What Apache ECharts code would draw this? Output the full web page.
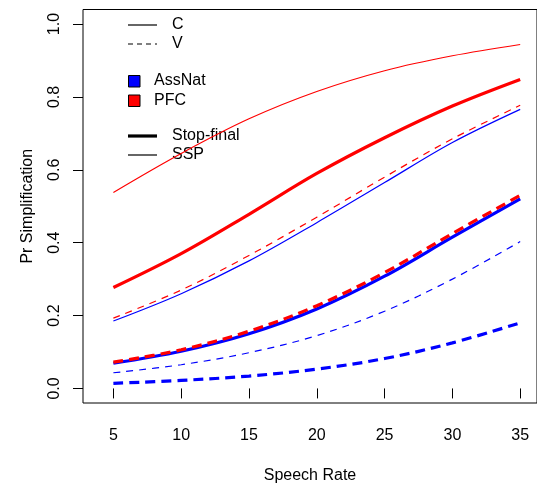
<!DOCTYPE html>
<html>
<head>
<meta charset="utf-8">
<script src="https://cdn.jsdelivr.net/npm/echarts@6/dist/echarts.min.js"></script>
<style>
html,body{margin:0;padding:0;background:#fff;}
#chart{width:537px;height:489px;}
</style>
</head>
<body>
<div id="chart"></div>
<script>
// Speech rate values at which curves were read
const speechRate = [5, 10, 15, 20, 25, 30, 35];
// PFC (red)
const pfcC_SSP        = [0.538, 0.645, 0.740, 0.815, 0.872, 0.913, 0.944];
const pfcC_StopFinal  = [0.277, 0.370, 0.478, 0.590, 0.688, 0.775, 0.848];
const pfcV_SSP        = [0.193, 0.270, 0.365, 0.470, 0.580, 0.685, 0.777];
const pfcV_StopFinal  = [0.072, 0.106, 0.157, 0.227, 0.318, 0.425, 0.530];
// AssNat (blue)
const assC_SSP        = [0.185, 0.260, 0.350, 0.455, 0.565, 0.675, 0.766];
const assC_StopFinal  = [0.069, 0.102, 0.150, 0.218, 0.308, 0.415, 0.520];
const assV_SSP        = [0.043, 0.065, 0.098, 0.145, 0.212, 0.300, 0.403];
const assV_StopFinal  = [0.014, 0.022, 0.034, 0.053, 0.082, 0.125, 0.180];

const xTicks = [5, 10, 15, 20, 25, 30, 35];
const yTicks = [0, 0.2, 0.4, 0.6, 0.8, 1.0];

const FONT = '"Liberation Sans", Arial, sans-serif';
const BLUE = '#0000ff', RED = '#ff0000';

function pts(vals) { return speechRate.map((x, i) => [x, vals[i]]); }
function mk(name, vals, color, thick, dashed) {
  return {
    name: name, type: 'line', data: pts(vals), smooth: 0.35,
    symbol: 'none', silent: true, animation: false,
    lineStyle: {
      color: color, width: thick ? 3.2 : 1.2,
      type: dashed ? (thick ? [10, 6] : [7, 6]) : 'solid'
    }
  };
}

const chart = echarts.init(document.getElementById('chart'), null, {renderer: 'canvas'});

const legendItems = [];
function legLine(y, w, dashed) {
  legendItems.push({type: 'line', shape: {x1: 128, y1: y, x2: 157, y2: y},
    style: {stroke: '#000', lineWidth: w, lineDash: dashed ? [5, 4] : null}});
}
function legText(x, y, t) {
  legendItems.push({type: 'text', x: x, y: y,
    style: {text: t, font: '16px ' + FONT, fill: '#000', textVerticalAlign: 'middle', verticalAlign: 'middle'}});
}
function legRect(y, c) {
  legendItems.push({type: 'rect', shape: {x: 128.5, y: y, width: 11.5, height: 11.5},
    style: {fill: c, stroke: '#000', lineWidth: 1}});
}
legLine(25, 1.2, false); legText(172, 25, 'C');
legLine(44, 1.2, true);  legText(172, 44, 'V');
legRect(75.5, BLUE); legText(154, 81, 'AssNat');
legRect(95, RED);    legText(154, 101, 'PFC');
legLine(136, 3.2, false); legText(172, 136, 'Stop-final');
legLine(155, 1.2, false); legText(172, 155, 'SSP');

chart.setOption({
  animation: false,
  backgroundColor: '#fff',
  textStyle: {fontFamily: FONT},
  grid: {left: 83, top: 9.5, width: 457, height: 399.6, show: true,
         borderColor: '#000', borderWidth: 1, backgroundColor: 'transparent'},
  xAxis: {
    type: 'value', min: 2.76, max: 36.24,
    name: 'Speech Rate', nameLocation: 'middle', nameGap: 65,
    nameTextStyle: {fontSize: 16, color: '#000', fontFamily: FONT},
    axisLine: {show: false},
    axisTick: {show: true, length: 10, customValues: xTicks, lineStyle: {color: '#000'}},
    axisLabel: {customValues: xTicks, fontSize: 16, color: '#000', margin: 25, fontFamily: FONT},
    splitLine: {show: false}
  },
  yAxis: {
    type: 'value', min: -0.04, max: 1.04,
    name: 'Pr Simplification', nameLocation: 'middle', nameGap: 47, nameRotate: 90,
    nameTextStyle: {fontSize: 16, color: '#000', fontFamily: FONT},
    axisLine: {show: false},
    axisTick: {show: true, length: 10, customValues: yTicks, lineStyle: {color: '#000'}},
    axisLabel: {customValues: yTicks, fontSize: 16, color: '#000', margin: 20, rotate: 90,
      fontFamily: FONT, formatter: v => v.toFixed(1)},
    splitLine: {show: false}
  },
  series: [
    mk('PFC C SSP', pfcC_SSP, RED, false, false),
    mk('PFC C Stop-final', pfcC_StopFinal, RED, true, false),
    mk('AssNat C SSP', assC_SSP, BLUE, false, false),
    mk('PFC V SSP', pfcV_SSP, RED, false, true),
    mk('AssNat C Stop-final', assC_StopFinal, BLUE, true, false),
    mk('PFC V Stop-final', pfcV_StopFinal, RED, true, true),
    mk('AssNat V SSP', assV_SSP, BLUE, false, true),
    mk('AssNat V Stop-final', assV_StopFinal, BLUE, true, true)
  ],
  graphic: legendItems
});
</script>
</body>
</html>
